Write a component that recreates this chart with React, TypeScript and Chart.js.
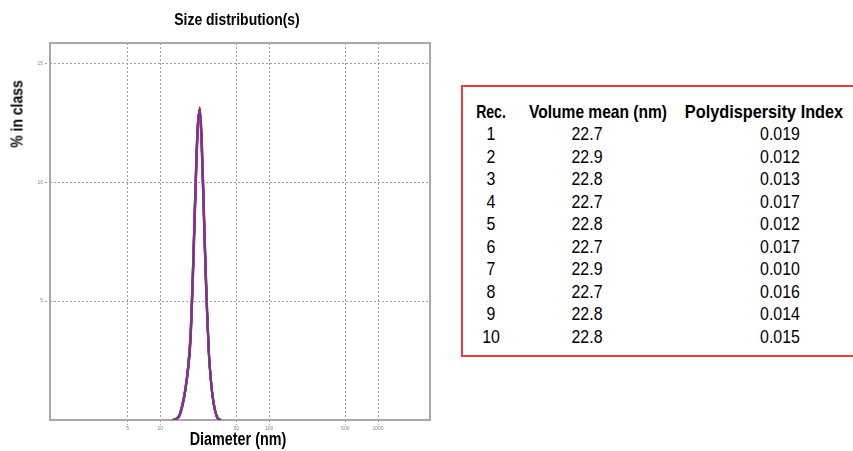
import React, { useEffect, useRef } from "react";
import { Chart, registerables } from "chart.js";

Chart.register(...registerables);

// ---- data ----
const chartTitle = "Size distribution(s)";
const xAxisTitle = "Diameter (nm)";
const yAxisTitle = "% in class";

const diameters = [13, 14, 15, 16, 17, 18, 19, 20, 21, 22, 23, 24, 25, 26, 27, 28, 29, 30, 32, 34, 36];

const rec1 = [0, 0.06, 0.22, 0.7, 1.35, 2.3, 3.8, 6.7, 9.9, 12.4, 12.9, 11.3, 8.7, 6.1, 4.1, 2.6, 1.7, 1.05, 0.33, 0.05, 0];
const rec2 = [0, 0.04, 0.18, 0.6, 1.25, 2.1, 3.4, 6.1, 9.3, 12.0, 13.1, 11.9, 9.3, 6.7, 4.5, 2.8, 1.85, 1.15, 0.37, 0.05, 0];
const rec3 = [0, 0.05, 0.2, 0.65, 1.3, 2.2, 3.6, 6.4, 9.6, 12.2, 13.05, 11.6, 9.0, 6.4, 4.3, 2.7, 1.8, 1.1, 0.35, 0.05, 0];
const rec4 = [0, 0.05, 0.21, 0.68, 1.33, 2.25, 3.75, 6.6, 9.8, 12.3, 13.0, 11.4, 8.8, 6.2, 4.2, 2.65, 1.75, 1.08, 0.34, 0.05, 0];
const rec5 = [0, 0.05, 0.2, 0.64, 1.28, 2.18, 3.58, 6.38, 9.58, 12.22, 13.08, 11.62, 9.02, 6.42, 4.32, 2.72, 1.8, 1.12, 0.36, 0.05, 0];
const rec6 = [0, 0.05, 0.22, 0.69, 1.34, 2.27, 3.78, 6.62, 9.83, 12.32, 12.98, 11.38, 8.78, 6.18, 4.18, 2.63, 1.74, 1.07, 0.34, 0.05, 0];
const rec7 = [0, 0.04, 0.17, 0.58, 1.22, 2.05, 3.35, 6.0, 9.2, 11.95, 13.15, 12.0, 9.4, 6.8, 4.55, 2.85, 1.88, 1.17, 0.38, 0.05, 0];
const rec8 = [0, 0.05, 0.21, 0.67, 1.32, 2.24, 3.72, 6.58, 9.78, 12.28, 13.02, 11.42, 8.82, 6.22, 4.22, 2.66, 1.76, 1.09, 0.34, 0.05, 0];
const rec9 = [0, 0.05, 0.2, 0.66, 1.31, 2.21, 3.62, 6.42, 9.62, 12.21, 13.04, 11.58, 8.98, 6.38, 4.28, 2.69, 1.79, 1.1, 0.35, 0.05, 0];
const rec10 = [0, 0.05, 0.21, 0.66, 1.31, 2.22, 3.64, 6.44, 9.64, 12.2, 13.03, 11.56, 8.96, 6.36, 4.27, 2.68, 1.78, 1.1, 0.35, 0.05, 0];

const seriesValues = [rec3, rec5, rec9, rec10, rec2, rec7, rec8, rec6, rec4, rec1];
const seriesLabels = ["3", "5", "9", "10", "2", "7", "8", "6", "4", "1"];
const seriesColors = ["#6a3a9a", "#c0308a", "#d84070", "#e8283c", "#8a2030", "#a02838", "#f07890", "#e05070", "#ff6a88", "#e8283c"];

const xTicks = [5, 10, 50, 100, 500, 1000];
const yTicks = [5, 10, 15];

const tableHeaders = ["Rec.", "Volume mean (nm)", "Polydispersity Index"];
const recNumbers = ["1", "2", "3", "4", "5", "6", "7", "8", "9", "10"];
const volumeMeans = ["22.7", "22.9", "22.8", "22.7", "22.8", "22.7", "22.9", "22.7", "22.8", "22.8"];
const pdIndexes = ["0.019", "0.012", "0.013", "0.017", "0.012", "0.017", "0.010", "0.016", "0.014", "0.015"];

const FONT = '"Liberation Sans", Arial, sans-serif';

const framePlugin = {
  id: "frame",
  beforeDatasetsDraw(chart: any) {
    const { ctx, chartArea } = chart;
    ctx.save();
    ctx.strokeStyle = "#a8a8a8";
    ctx.lineWidth = 2;
    ctx.setLineDash([]);
    ctx.strokeRect(chartArea.left, chartArea.top, chartArea.right - chartArea.left, chartArea.bottom - chartArea.top);
    ctx.restore();
  },
};

function Txt(props: { x: number; baseline: number; size: number; bold?: boolean; sx?: number; children: any }) {
  const { x, baseline, size, bold, children } = props;
  const sx = props.sx ?? 0.82;
  const top = baseline - 0.8465 * size;
  return (
    <div
      style={{
        position: "absolute",
        left: x,
        top,
        transform: `translateX(-50%) scaleX(${sx})`,
        fontFamily: FONT,
        fontSize: size,
        lineHeight: `${size}px`,
        fontWeight: bold ? 700 : 400,
        whiteSpace: "nowrap",
        color: "#000",
      }}
    >
      {children}
    </div>
  );
}

export default function App() {
  const canvasRef = useRef<HTMLCanvasElement | null>(null);

  useEffect(() => {
    if (!canvasRef.current) return;
    const chart = new Chart(canvasRef.current, {
      type: "line",
      data: {
        datasets: seriesValues.map((vals, i) => ({
          label: "Record " + seriesLabels[i],
          data: diameters.map((d, j) => ({ x: d, y: vals[j] })),
          borderColor: seriesColors[i],
          borderWidth: 2,
          pointRadius: 0,
          fill: false,
          cubicInterpolationMode: "monotone" as const,
        })),
      },
      options: {
        animation: false,
        responsive: false,
        maintainAspectRatio: false,
        layout: { padding: { top: 43, right: 10, left: 0, bottom: 0 } },
        plugins: { legend: { display: false }, title: { display: false }, tooltip: { enabled: false } },
        scales: {
          x: {
            type: "logarithmic",
            min: 0.97,
            max: 3000,
            afterBuildTicks: (scale: any) => {
              scale.ticks = xTicks.map((v) => ({ value: v }));
            },
            afterFit: (scale: any) => {
              scale.height = 31;
            },
            ticks: {
              autoSkip: false,
              maxRotation: 0,
              padding: 1,
              color: "#888",
              font: { size: 5, family: "Liberation Sans" },
              callback: (v: any) => String(v),
            },
            grid: { color: "#a0a0a0", lineWidth: 1, drawTicks: true, tickLength: 5, tickBorderDash: [2, 2] },
            border: { display: false, dash: [2, 2] },
          },
          y: {
            type: "linear",
            min: 0,
            max: 15.85,
            afterBuildTicks: (scale: any) => {
              scale.ticks = yTicks.map((v) => ({ value: v }));
            },
            afterFit: (scale: any) => {
              scale.width = 50;
            },
            ticks: {
              padding: 2,
              color: "#888",
              font: { size: 5, family: "Liberation Sans" },
              callback: (v: any) => String(v),
            },
            grid: { color: "#a0a0a0", lineWidth: 1, drawTicks: true, tickLength: 5, tickBorderDash: [2, 2] },
            border: { display: false, dash: [2, 2] },
          },
        },
      },
      plugins: [framePlugin],
    });
    return () => chart.destroy();
  }, []);

  const rowBase0 = 141;
  const pitch = 22.5;

  return (
    <div style={{ position: "fixed", left: 0, top: 0, width: 853, height: 451, overflow: "hidden", background: "#fff" }}>
      <canvas ref={canvasRef} width={440} height={451} style={{ position: "absolute", left: 0, top: 0, width: 440, height: 451 }} />
      <Txt x={237} baseline={25} size={17} bold>
        {chartTitle}
      </Txt>
      <Txt x={238} baseline={446} size={17.5} bold>
        {xAxisTitle}
      </Txt>
      <div
        style={{
          position: "absolute",
          left: 17,
          top: 114,
          transform: "translate(-50%, -50%) rotate(-90deg) scaleX(0.82)",
          fontFamily: FONT,
          fontSize: 17,
          lineHeight: "17px",
          fontWeight: 700,
          whiteSpace: "nowrap",
        }}
      >
        {yAxisTitle}
      </div>
      <div
        style={{
          position: "absolute",
          left: 461,
          top: 85,
          width: 420,
          height: 272,
          border: "2px solid #ee3a3a",
          boxSizing: "border-box",
        }}
      />
      <Txt x={491} baseline={119} size={18.5} bold sx={0.76}>
        {tableHeaders[0]}
      </Txt>
      <Txt x={598} baseline={119} size={18.5} bold sx={0.84}>
        {tableHeaders[1]}
      </Txt>
      <Txt x={764} baseline={119} size={18.5} bold sx={0.88}>
        {tableHeaders[2]}
      </Txt>
      {recNumbers.map((r, i) => (
        <React.Fragment key={r}>
          <Txt x={491} baseline={rowBase0 + pitch * i} size={18.5} sx={0.86}>
            {r}
          </Txt>
          <Txt x={587} baseline={rowBase0 + pitch * i} size={18.5} sx={0.86}>
            {volumeMeans[i]}
          </Txt>
          <Txt x={780} baseline={rowBase0 + pitch * i} size={18.5} sx={0.86}>
            {pdIndexes[i]}
          </Txt>
        </React.Fragment>
      ))}
    </div>
  );
}
